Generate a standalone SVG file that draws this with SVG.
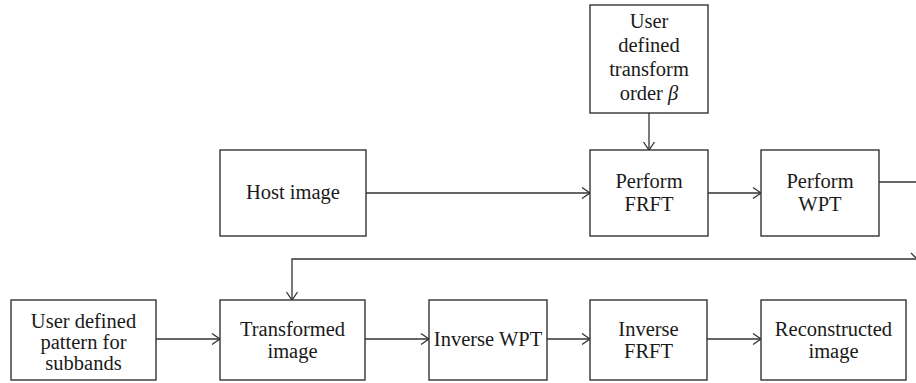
<svg xmlns="http://www.w3.org/2000/svg" width="916" height="383" viewBox="0 0 916 383">
  <style>
    .box { fill: #ffffff; stroke: #333333; stroke-width: 1.4; }
    .lbl { font-family: "Liberation Serif", serif; font-size: 20.5px; fill: #1a1a1a; text-anchor: middle; }
    .wire { fill: none; stroke: #333333; stroke-width: 1.3; }
  </style>
  <defs>
    <marker id="arrow" markerUnits="userSpaceOnUse" markerWidth="12" markerHeight="14" viewBox="-10 -7 12 14" refX="0" refY="0" orient="auto">
      <path d="M-8,-5.5 L0,0 L-8,5.5" fill="none" stroke="#333333" stroke-width="1.3"/>
    </marker>
  </defs>
  <rect width="916" height="383" fill="#ffffff"/>

  <g id="connectors">
    <line class="wire" x1="649" y1="113" x2="649" y2="150" marker-end="url(#arrow)"/>
    <line class="wire" x1="366" y1="193" x2="590" y2="193" marker-end="url(#arrow)"/>
    <line class="wire" x1="708" y1="193" x2="761" y2="193" marker-end="url(#arrow)"/>
    <line class="wire" x1="879" y1="182" x2="916" y2="182"/>
    <path class="wire" d="M916,259 L292,259 L292,300" marker-end="url(#arrow)"/>
    <line class="wire" x1="911" y1="253" x2="916" y2="258"/>
    <line class="wire" x1="156" y1="339" x2="220" y2="339" marker-end="url(#arrow)"/>
    <line class="wire" x1="365" y1="339" x2="429" y2="339" marker-end="url(#arrow)"/>
    <line class="wire" x1="547" y1="339" x2="590" y2="339" marker-end="url(#arrow)"/>
    <line class="wire" x1="707" y1="339" x2="761" y2="339" marker-end="url(#arrow)"/>
  </g>

  <g id="order-input">
    <rect class="box" x="590" y="5" width="118" height="108"/>
    <text class="lbl" x="649" y="28">User</text>
    <text class="lbl" x="649" y="52">defined</text>
    <text class="lbl" x="649" y="76">transform</text>
    <text class="lbl" x="649" y="100">order <tspan font-style="italic">β</tspan></text>
  </g>

  <g id="host-image">
    <rect class="box" x="220" y="150" width="146" height="86"/>
    <text class="lbl" x="293" y="199">Host image</text>
  </g>

  <g id="perform-frft">
    <rect class="box" x="590" y="150" width="118" height="86"/>
    <text class="lbl" x="649" y="188">Perform</text>
    <text class="lbl" x="649" y="211">FRFT</text>
  </g>

  <g id="perform-wpt">
    <rect class="box" x="761" y="150" width="118" height="86"/>
    <text class="lbl" x="820" y="188">Perform</text>
    <text class="lbl" x="820" y="211">WPT</text>
  </g>

  <g id="subband-pattern">
    <rect class="box" x="11" y="300" width="145" height="80"/>
    <text class="lbl" x="83.5" y="328">User defined</text>
    <text class="lbl" x="83.5" y="349">pattern for</text>
    <text class="lbl" x="83.5" y="370">subbands</text>
  </g>

  <g id="transformed-image">
    <rect class="box" x="220" y="300" width="145" height="80"/>
    <text class="lbl" x="292.5" y="336">Transformed</text>
    <text class="lbl" x="292.5" y="358">image</text>
  </g>

  <g id="inverse-wpt">
    <rect class="box" x="429" y="300" width="118" height="80"/>
    <text class="lbl" x="488" y="346">Inverse WPT</text>
  </g>

  <g id="inverse-frft">
    <rect class="box" x="590" y="300" width="117" height="80"/>
    <text class="lbl" x="648.5" y="336">Inverse</text>
    <text class="lbl" x="648.5" y="358">FRFT</text>
  </g>

  <g id="reconstructed-image">
    <rect class="box" x="761" y="300" width="145" height="80"/>
    <text class="lbl" x="833.5" y="336">Reconstructed</text>
    <text class="lbl" x="833.5" y="358">image</text>
  </g>
</svg>
